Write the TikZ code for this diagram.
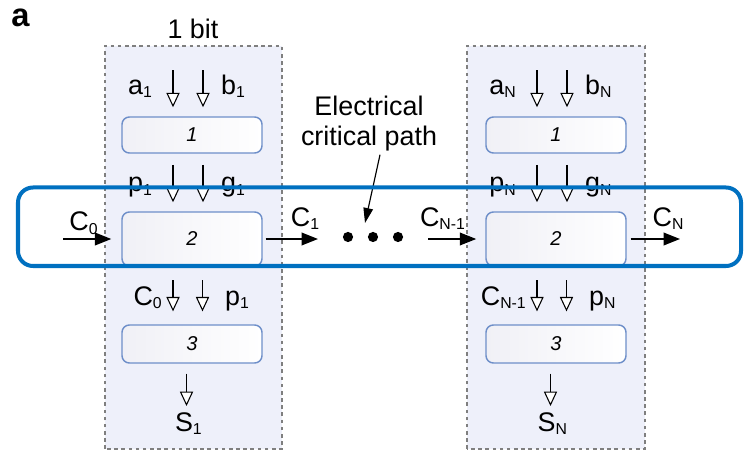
\documentclass[tikz,border=0pt]{standalone}
\usepackage{fontspec}
\setmainfont{Liberation Sans}
\usetikzlibrary{arrows.meta, positioning, calc}
\definecolor{bitfill}{HTML}{EEF0FA}
\definecolor{dashgray}{HTML}{7F7F7F}
\definecolor{stageblue}{HTML}{6E8FC9}
\definecolor{stagegray}{HTML}{F0F0F6}
\definecolor{critblue}{HTML}{0070C0}

\newcommand{\lsub}[1]{\raisebox{-3pt}{\fontsize{15}{15}\selectfont #1}}

\tikzset{
  bitbox/.style={fill=bitfill, draw=dashgray, line width=1.8pt, dash pattern=on 3.4pt off 3.4pt},
  stage/.style={draw=stageblue, line width=1.4pt, rounded corners=7pt, minimum width=4.667cm,
    left color=stagegray, right color=white, font=\fontsize{19}{19}\selectfont\itshape},
  inarrow/.style={line width=1pt, -{Triangle[length=4.8mm, width=4.4mm, fill=white, line width=1pt]}},
  carry/.style={line width=2pt, -{Triangle[length=5.5mm, width=4.2mm]}},
  elec/.style={line width=1.1pt, -{Triangle[length=5mm, width=3.2mm]}},
  lbl/.style={font=\fontsize{25.5}{28}\selectfont, inner sep=0pt},
  dot/.style={circle, fill=black, inner sep=0pt, minimum size=0.34cm},
}

\begin{document}
\begin{tikzpicture}

\useasboundingbox (0,0) rectangle (24.8,15.0667);

% Panel label and bit width
\node[lbl, anchor=base west, font=\fontsize{31}{31}\selectfont\bfseries] (panel) at (0.37,14.167) {a};
\node[lbl, anchor=base] (bitlab) at (6.433,13.767) {1 bit};

% One-bit slices
\draw[bitbox] (3.5,0.1) rectangle (9.4,13.533);
\draw[bitbox] (15.567,0.1) rectangle (21.5,13.533);

\foreach \c/\xc/\n/\cin in {1/6.4/1/{C\lsub{0}}, 2/18.533/N/{C\lsub{N-1}}} {
  % stages
  \node[stage, minimum height=1.2cm] (one\c) at (\xc,10.567) {1};
  \node[stage, minimum height=1.8cm] (two\c) at (\xc,7.1) {2};
  \node[stage, minimum height=1.267cm] (three\c) at (\xc,3.6) {3};

  % a, b -> stage 1
  \coordinate (ain\c) at (\xc-0.633,12.733);
  \coordinate (bin\c) at (\xc+0.367,12.733);
  \draw[inarrow, shorten >=0.3cm] (ain\c) -- (ain\c |- one\c.north);
  \draw[inarrow, shorten >=0.3cm] (bin\c) -- (bin\c |- one\c.north);
  \node[lbl, anchor=base east] (alab\c) at (\xc-1.333,11.933) {a\lsub{\n}};
  \node[lbl, anchor=base west] (blab\c) at (\xc+0.967,11.933) {b\lsub{\n}};

  % p, g -> stage 2
  \coordinate (pin\c) at (\xc-0.633,9.567);
  \coordinate (gin\c) at (\xc+0.367,9.567);
  \draw[inarrow, shorten >=0.3cm] (pin\c) -- (pin\c |- two\c.north);
  \draw[inarrow, shorten >=0.3cm] (gin\c) -- (gin\c |- two\c.north);
  \node[lbl, anchor=base east] (plab\c) at (\xc-1.333,8.667) {p\lsub{\n}};
  \node[lbl, anchor=base west] (glab\c) at (\xc+0.967,8.667) {g\lsub{\n}};

  % carry, p -> stage 3
  \coordinate (cin\c) at (\xc-0.633,5.733);
  \coordinate (qin\c) at (\xc+0.35,5.733);
  \draw[inarrow, shorten >=0.43cm] (cin\c) -- (cin\c |- three\c.north);
  \draw[inarrow, shorten >=0.43cm] (qin\c) -- (qin\c |- three\c.north);
  \node[lbl, anchor=base east] (clab\c) at (\xc-1.0,4.9) {\cin};
  \node[lbl, anchor=base west] (qlab\c) at (\xc+1.1,4.9) {p\lsub{\n}};

  % sum out
  \node[lbl, anchor=base] (s\c) at (\xc-0.12,0.7) {S\lsub{\n}};
  \draw[inarrow, shorten <=0.33cm, shorten >=0.2cm] ([xshift=-0.183cm]three\c.south) -- ([xshift=-0.183cm]three\c.south |- s\c.north);
}

% Carry chain
\coordinate (c0) at (2.1,7.1);
\coordinate (c1) at (10.6,7.1);
\coordinate (cm) at (14.267,7.1);
\coordinate (cn) at (22.667,7.1);
\draw[carry, shorten >=0.33cm] (c0) -- (two1.west);
\draw[carry, shorten <=0.1cm] (two1.east) -- (c1);
\draw[carry, shorten >=0.3cm] (cm) -- (two2.west);
\draw[carry, shorten <=0.13cm] (two2.east) -- (cn);
\node[lbl, anchor=base] (c0lab) at (2.783,7.367) {C\lsub{0}};
\node[lbl, anchor=base] (c1lab) at (10.167,7.533) {C\lsub{1}};
\node[lbl, anchor=base] (cmlab) at (14.75,7.533) {C\lsub{N-1}};
\node[lbl, anchor=base] (cnlab) at (22.267,7.533) {C\lsub{N}};

% Dots
\node[dot] (dot1) at (11.6,7.167) {};
\node[dot] (dot2) at (12.433,7.167) {};
\node[dot] (dot3) at (13.267,7.167) {};

% Critical path note
\node[lbl, anchor=base] (elec1) at (12.3,11.233) {Electrical};
\node[lbl, anchor=base] (elec2) at (12.3,10.233) {critical path};
\coordinate (crit) at (12.167,7.633);
\draw[elec] ([xshift=0.367cm, yshift=-0.13cm]elec2.south) -- (crit);

% Critical path frame
\draw[critblue, line width=3.8pt, rounded corners=0.5cm] (0.6,6.2) rectangle (24.7,8.817);

\end{tikzpicture}
\end{document}
